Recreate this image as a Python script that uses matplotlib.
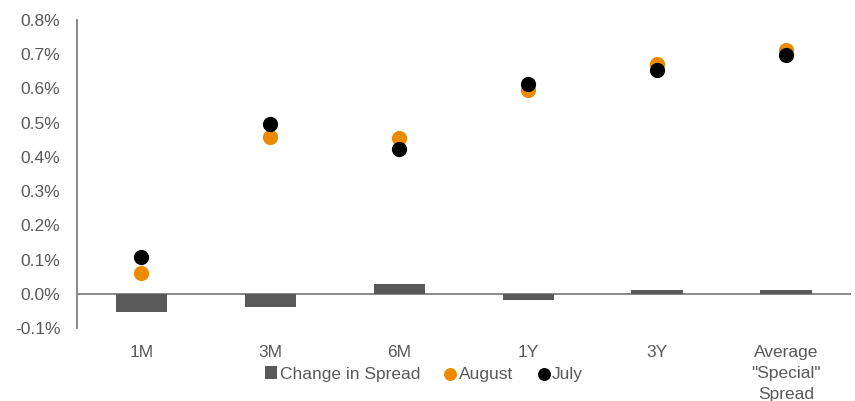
import numpy as np
import matplotlib.pyplot as plt
from matplotlib.ticker import FuncFormatter

categories = ['1M', '3M', '6M', '1Y', '3Y', 'Average\n"Special"\nSpread']
change_in_spread = [-0.052, -0.038, 0.030, -0.019, 0.012, 0.011]
august = [0.061, 0.459, 0.456, 0.596, 0.672, 0.712]
july = [0.109, 0.497, 0.424, 0.614, 0.655, 0.698]

GRAY = '#595959'
ORANGE = '#EE8A00'
FS = 12.5

plt.rcParams['font.family'] = ['Liberation Sans', 'DejaVu Sans']

fig = plt.figure(figsize=(8.55, 4.01), dpi=100)
ax = fig.add_axes([0.090, 0.182, 0.905, 0.768])

x = np.arange(len(categories))
bars = ax.bar(x, change_in_spread, width=0.4, color=GRAY, zorder=2,
              label='Change in Spread')
aug = ax.scatter(x, august, s=120, color=ORANGE, zorder=3, label='August',
                 linewidths=0)
jul = ax.scatter(x, july, s=120, color='black', zorder=4, label='July',
                 linewidths=0)

ax.axhline(0, color='#7f7f7f', lw=1.3, zorder=1)

ax.set_xlim(-0.5, len(categories) - 0.5)
ax.set_ylim(-0.1, 0.8)
ax.set_yticks(np.arange(-0.1, 0.81, 0.1))
ax.yaxis.set_major_formatter(FuncFormatter(lambda v, p: f'{v:.1f}%'))
ax.set_xticks(x)
ax.set_xticklabels(categories, va='top', linespacing=1.5)

for s in ['top', 'right', 'bottom']:
    ax.spines[s].set_visible(False)
ax.spines['left'].set_color('#7f7f7f')
ax.spines['left'].set_linewidth(1.3)
ax.tick_params(axis='both', length=0, labelsize=FS, labelcolor=GRAY)
ax.tick_params(axis='y', pad=12)
ax.tick_params(axis='x', pad=12)

fig.legend(handles=[bars, aug, jul], loc='center',
           bbox_to_anchor=(424 / 855, 1 - 374 / 401), ncol=3, frameon=False,
           fontsize=FS, labelcolor=GRAY, handletextpad=0.15,
           columnspacing=1.4, handlelength=0.7, handleheight=0.7,
           markerscale=0.85)

fig.savefig('out.png', dpi=100)
